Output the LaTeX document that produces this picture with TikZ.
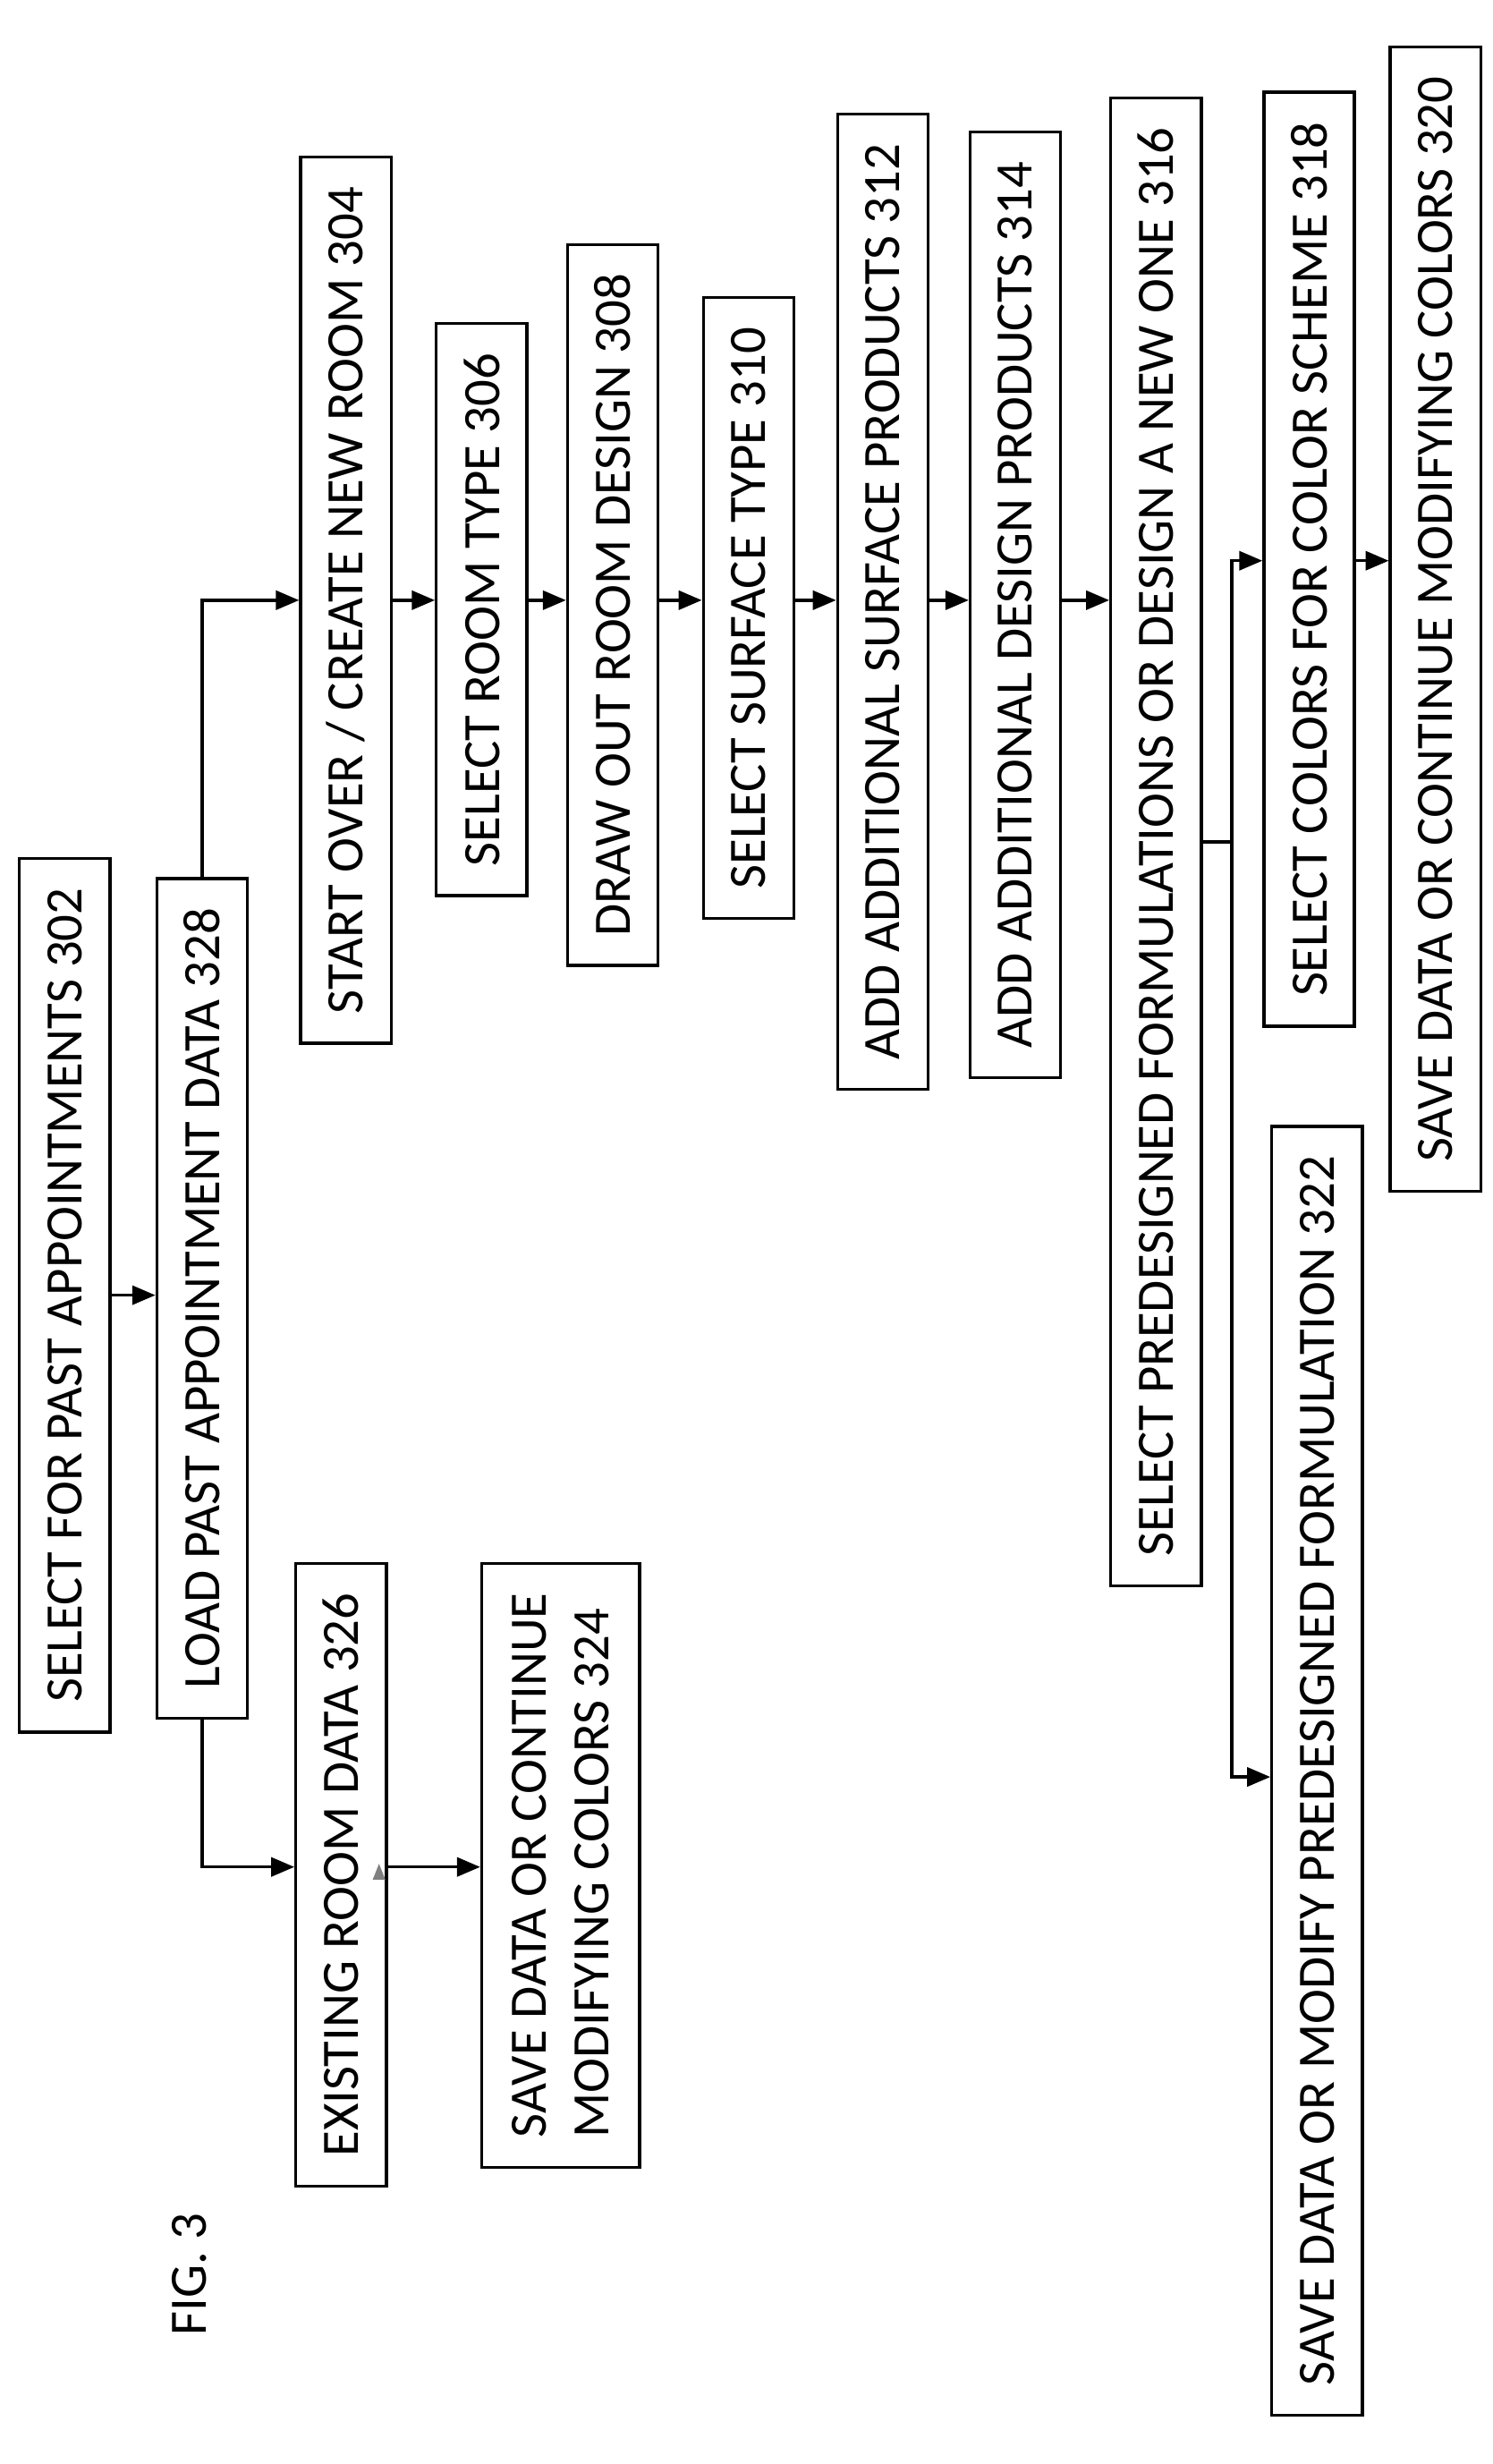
\documentclass[tikz,border=0pt]{standalone}
\usepackage{fontspec}
\setmainfont{Carlito}
\usetikzlibrary{arrows.meta, positioning}

\begin{document}
\begin{tikzpicture}[x=0.015cm, y=-0.015cm,
    stepbox/.style={draw, thick, rotate=90, minimum height=0.86cm,
      inner xsep=0.28cm, font=\fontsize{14.2pt}{17pt}\selectfont},
    arr/.style={thick, -{Triangle[length=2.2mm, width=1.8mm]}}]
    \useasboundingbox (0,0) rectangle (945,1560);

    % Figure label
    \node[rotate=90, font=\fontsize{14.2pt}{17pt}\selectfont] (fig) at (120,1440) {FIG. 3};

    % Left branch
    \node[stepbox] (past) at (41,820) {SELECT FOR PAST APPOINTMENTS 302};
    \node[stepbox] (load) at (128,822) {LOAD PAST APPOINTMENT DATA 328};
    \node[stepbox] (exist) at (216,1187) {EXISTING ROOM DATA 326};
    \node[stepbox, minimum height=1.5cm, align=left] (savec) at (355,1181)
      {SAVE DATA OR CONTINUE\\MODIFYING COLORS 324};

    % Main chain
    \node[stepbox] (start) at (219,380) {START OVER / CREATE NEW ROOM 304};
    \node[stepbox] (rtype) at (305,386) {SELECT ROOM TYPE 306};
    \node[stepbox] (draw) at (388,383) {DRAW OUT ROOM DESIGN 308};
    \node[stepbox] (stype) at (474,385) {SELECT SURFACE TYPE 310};
    \node[stepbox] (surf) at (559,381) {ADD ADDITIONAL SURFACE PRODUCTS 312};
    \node[stepbox] (dsgn) at (643,383) {ADD ADDITIONAL DESIGN PRODUCTS 314};
    \node[stepbox] (pred) at (732,533) {SELECT PREDESIGNED FORMULATIONS OR DESIGN A NEW ONE 316};
    \node[stepbox] (colors) at (829,354) {SELECT COLORS FOR COLOR SCHEME 318};
    \node[stepbox] (savem) at (909,392) {SAVE DATA OR CONTINUE MODIFYING COLORS 320};
    \node[stepbox] (savef) at (834,1121) {SAVE DATA OR MODIFY PREDESIGNED FORMULATION 322};

    \coordinate (row) at (0,380);
    \coordinate (row2) at (0,1182);
    \coordinate (up) at (780,355);
    \coordinate (down) at (780,1125);

    % Connectors
    \draw[arr] (past.south) -- (load.north |- past.south);
    \draw[arr] (load.east) |- (start.north |- row);
    \draw[arr] (load.west) |- (exist.north |- row2);
    \draw[arr] (exist.south |- row2) -- (savec.north |- row2);
    \fill[gray] (236,1190) -- (244,1190) -- (240,1180) -- cycle;
    \draw[arr] (start.south |- row) -- (rtype.north |- row);
    \draw[arr] (rtype.south |- row) -- (draw.north |- row);
    \draw[arr] (draw.south |- row) -- (stype.north |- row);
    \draw[arr] (stype.south |- row) -- (surf.north |- row);
    \draw[arr] (surf.south |- row) -- (dsgn.north |- row);
    \draw[arr] (dsgn.south |- row) -- (pred.north |- row);
    \draw[thick] (pred.south) -- (pred.south -| up);
    \draw[arr] (pred.south -| up) -- (up) -- (colors.north |- up);
    \draw[arr] (pred.south -| up) -- (down) -- (savef.north |- down);
    \draw[arr] (colors.south |- up) -- (savem.north |- up);
\end{tikzpicture}
\end{document}
